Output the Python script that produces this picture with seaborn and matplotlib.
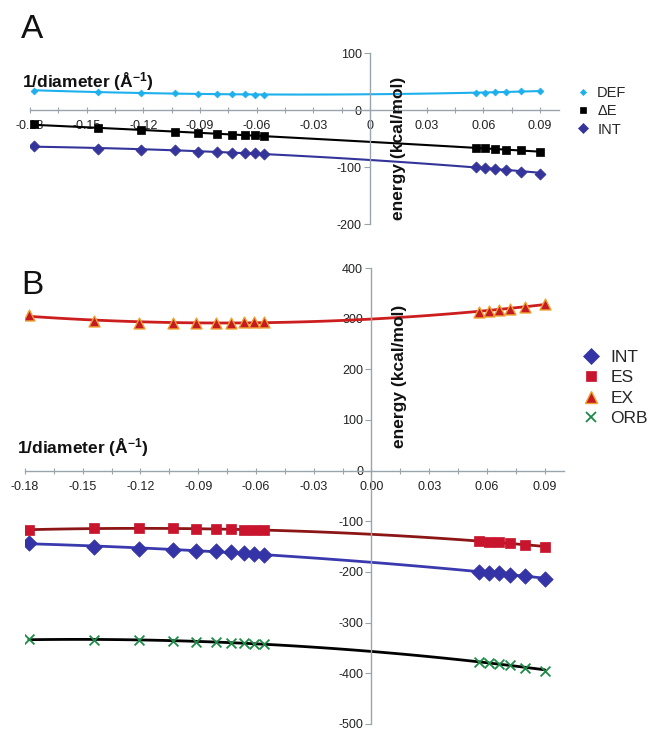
import numpy as np
import pandas as pd
import matplotlib
matplotlib.use("Agg")
import matplotlib.pyplot as plt
import seaborn as sns
from matplotlib.ticker import FixedLocator, MultipleLocator
from matplotlib.lines import Line2D

# 1/diameter values (A^-1), shared by both panels
inv_diam = [-0.178, -0.144, -0.121, -0.103, -0.091, -0.081, -0.073, -0.066, -0.061, -0.056,
            0.056, 0.061, 0.066, 0.072, 0.080, 0.090]

# panel A (kcal/mol)
a_def = [34, 32, 30, 29, 28.5, 28, 27.5, 27.5, 27, 27, 30, 30.5, 31, 31.5, 32.5, 34]
a_de = [-25, -32, -35, -38.5, -41, -42, -43, -44, -44.5, -45, -66, -67, -68, -70, -71, -74]
a_int = [-62.5, -68, -70, -71, -73, -74, -75, -75.5, -76, -76.5, -99.5, -101, -103, -105, -108, -112]

# panel B (kcal/mol)
b_int = [-142, -151, -154, -156.5, -158, -159, -161, -162.5, -164.5, -166,
         -199.5, -201, -202.5, -205, -207.5, -214]
b_es = [-117, -114, -113, -114, -114.5, -115, -116, -116.5, -117, -118,
        -139, -140, -141.5, -143.5, -146, -150.5]
b_ex = [307, 294.5, 292, 292, 291.5, 291.5, 292, 292.5, 293, 293.5,
        314, 315.5, 317.5, 320, 323.5, 329.5]
b_orb = [-333, -333.5, -334, -335.5, -337.5, -338.5, -340, -340.5, -341.5, -342.5,
         -377, -379, -381, -383, -389, -395]

a_xticks = [-0.18, -0.15, -0.12, -0.09, -0.06, -0.03, 0, 0.03, 0.06, 0.09]
a_xticklabels = ["-0.18", "-0.15", "-0.12", "-0.09", "-0.06", "-0.03", "0", "0.03", "0.06", "0.09"]
b_xticklabels = ["-0.18", "-0.15", "-0.12", "-0.09", "-0.06", "-0.03", "0.00", "0.03", "0.06", "0.09"]
a_yticks = [-200, -100, 0, 100]
b_yticks = [-500, -400, -300, -200, -100, 0, 100, 200, 300, 400]

sns.set_theme(style="white")
plt.rcParams["font.family"] = ["Liberation Sans", "DejaVu Sans"]
plt.rcParams["axes.unicode_minus"] = False
plt.rcParams["mathtext.fontset"] = "custom"
plt.rcParams["mathtext.rm"] = "Liberation Sans"
plt.rcParams["mathtext.bf"] = "Liberation Sans:bold"

AXIS_COL = "#9aa4ad"
TXT_COL = "#222222"

fig = plt.figure(figsize=(6.5, 7.3), dpi=100)
ax_a = fig.add_axes([30 / 650, 1 - 224 / 730, 529 / 650, 171 / 730])
ax_b = fig.add_axes([25 / 650, 1 - 724 / 730, 539 / 650, 456 / 730])


def style_axes(ax, xlim, ylim, xticklabels, yticks):
    ax.set_xlim(*xlim)
    ax.set_ylim(*ylim)
    for side in ["top", "right"]:
        ax.spines[side].set_visible(False)
    ax.spines["left"].set_position(("data", 0))
    ax.spines["bottom"].set_position(("data", 0))
    for side in ["left", "bottom"]:
        ax.spines[side].set_color(AXIS_COL)
        ax.spines[side].set_linewidth(1.0)
    ax.xaxis.set_major_locator(FixedLocator(a_xticks))
    ax.set_xticklabels(xticklabels)
    ax.xaxis.set_minor_locator(MultipleLocator(0.015))
    ax.yaxis.set_major_locator(FixedLocator(yticks))
    ax.set_yticklabels([str(v) for v in yticks])
    ax.tick_params(axis="x", which="both", direction="inout", length=5, width=0.8,
                   color=AXIS_COL, labelsize=9, labelcolor=TXT_COL, pad=5, bottom=True)
    ax.tick_params(axis="y", which="major", direction="out", length=4, width=0.8,
                   color=AXIS_COL, labelsize=9, labelcolor=TXT_COL, pad=2, left=True)
    ax.set_xlabel("")
    ax.set_ylabel("")
    ax.patch.set_alpha(0)


def series(ax, y, marker, size, face, edge, line_col, lw, label, mlw=0.5, leg_scale=0.9):
    df = pd.DataFrame({"x": inv_diam, "y": y})
    sns.regplot(data=df, x="x", y="y", order=2, ci=None, scatter=False, ax=ax,
                line_kws={"color": line_col, "lw": lw, "zorder": 2})
    sns.scatterplot(data=df, x="x", y="y", ax=ax, marker=marker, s=size, color=face,
                    edgecolor=edge, linewidth=mlw, zorder=3, legend=False)
    return Line2D([], [], ls="none", marker=marker, markersize=np.sqrt(size) * leg_scale,
                  markerfacecolor=face, markeredgecolor=edge, markeredgewidth=mlw,
                  color=face, label=label)


# ---- panel A ----
h_a = [
    series(ax_a, a_def, "D", 12, "#1eb0ec", "#1eb0ec", "#1eb0ec", 1.5, "DEF"),
    series(ax_a, a_de, "s", 26, "#000000", "#000000", "#000000", 1.5, "\u0394E"),
    series(ax_a, a_int, "D", 32, "#34349a", "#34349a", "#34349a", 1.5, "INT"),
]
style_axes(ax_a, (-0.18, 0.10), (-200, 100), a_xticklabels, a_yticks)

# ---- panel B ----
h_b = [
    series(ax_b, b_int, "D", 62, "#3434a6", "#3434a6", "#3a3aae", 2.0, "INT", leg_scale=1.05),
    series(ax_b, b_es, "s", 44, "#c8142c", "#c8142c", "#8c1616", 2.0, "ES", leg_scale=1.0),
    series(ax_b, b_ex, "^", 62, "#c41a22", "#f0a030", "#cc1e1e", 2.0, "EX", mlw=1.0, leg_scale=1.1),
    series(ax_b, b_orb, "x", 50, "#1d8a48", "#1d8a48", "#000000", 2.0, "ORB", mlw=1.3, leg_scale=1.1),
]
style_axes(ax_b, (-0.18, 0.10), (-500, 400), b_xticklabels, b_yticks)

# axis titles
lab_font = dict(fontsize=12.5, fontweight="bold", color="#111111")
xlab = "1/diameter (\u00c5$\\mathbf{^{-1}}$)"
ax_a.text(-0.184, 49, xlab, ha="left", va="center", **lab_font)
ax_a.text(0.0148, -68, "energy (kcal/mol)", rotation=90, ha="center", va="center", **lab_font)
ax_b.text(-0.184, 45, xlab, ha="left", va="center", **lab_font)
ax_b.text(0.0147, 186, "energy (kcal/mol)", rotation=90, ha="center", va="center", **lab_font)

# panel letters
fig.text(21 / 650, 1 - 30 / 730, "A", fontsize=24, ha="left", va="center", color="#111111")
fig.text(21 / 650, 1 - 285 / 730, "B", fontsize=24, ha="left", va="center", color="#111111")

# legends
fig.legend(handles=h_a, loc="upper left", bbox_to_anchor=(568 / 650, 1 - 80 / 730),
           frameon=False, fontsize=10.5, handletextpad=0.4, labelspacing=0.3,
           handlelength=1.2, borderaxespad=0)
fig.legend(handles=h_b, loc="upper left", bbox_to_anchor=(574 / 650, 1 - 343 / 730),
           frameon=False, fontsize=12.5, handletextpad=0.5, labelspacing=0.3,
           handlelength=1.2, borderaxespad=0)

fig.savefig("out.png", dpi=100)
